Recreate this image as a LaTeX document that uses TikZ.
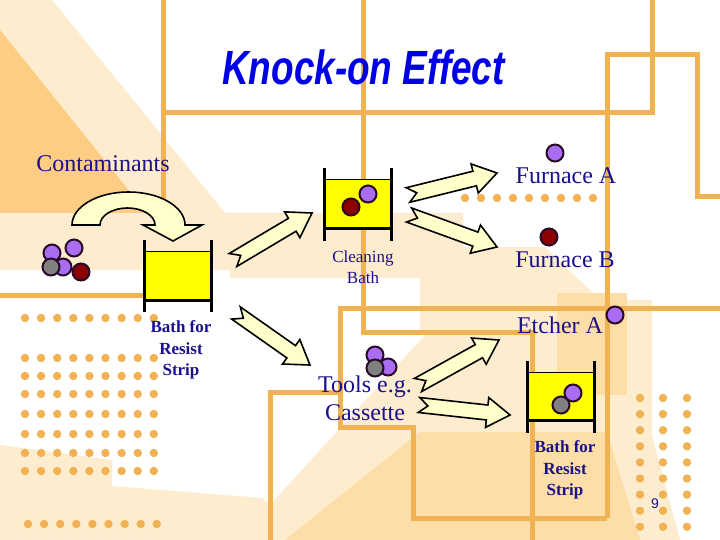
\documentclass[tikz,border=0pt]{standalone}
\usepackage{fontspec}
\setmainfont{Liberation Serif}
\newfontfamily\headfont{Liberation Sans}
\usepackage{graphicx}
\usetikzlibrary{calc}

\definecolor{lineorange}{RGB}{240,178,82}
\definecolor{palebg}{RGB}{254,236,206}
\definecolor{midbg}{RGB}{253,221,168}
\definecolor{darkbg}{RGB}{252,205,130}
\definecolor{labelblue}{RGB}{26,16,140}
\definecolor{titleblue}{RGB}{0,0,230}
\definecolor{bathyellow}{RGB}{255,255,0}
\definecolor{arrowfill}{RGB}{255,255,204}
\definecolor{purpleball}{RGB}{170,108,240}
\definecolor{redball}{RGB}{140,0,0}
\definecolor{grayball}{RGB}{128,128,128}
\definecolor{ballrim}{RGB}{40,10,40}

\begin{document}
\begin{tikzpicture}[x=1pt, y=-1pt,
    bgline/.style={lineorange, line width=5pt},
    bgdot/.style={fill=lineorange},
    biglabel/.style={text=labelblue, font=\fontsize{24}{28}\selectfont, inner sep=0pt, align=center},
    smalllabel/.style={text=labelblue, font=\fontsize{17}{21.5}\selectfont\bfseries, inner sep=0pt, align=center},
    ball/.style={circle, draw=ballrim, line width=2pt, minimum size=17pt, inner sep=0pt},
    bath/.style={rectangle, fill=bathyellow, draw=black, line width=1pt, inner sep=0pt, minimum width=66pt, minimum height=48pt},
    post/.style={line width=3pt},
    fatarrow/.style={fill=arrowfill, draw=black, line width=1.6pt, line join=miter,
      to path={
        ($(\tikztostart)!7.5pt!90:(\tikztotarget)$)
        -- ($(\tikztotarget)!23pt!(\tikztostart)!7.5pt!90:(\tikztotarget)$)
        -- ($(\tikztotarget)!23pt!(\tikztostart)!15pt!90:(\tikztotarget)$)
        -- (\tikztotarget)
        -- ($(\tikztotarget)!23pt!(\tikztostart)!15pt!-90:(\tikztotarget)$)
        -- ($(\tikztotarget)!23pt!(\tikztostart)!7.5pt!-90:(\tikztotarget)$)
        -- ($(\tikztostart)!7.5pt!-90:(\tikztotarget)$)
        -- ($(\tikztostart)!9pt!(\tikztotarget)$)
        -- cycle}}]

    % background
    \useasboundingbox (0,0) rectangle (720,540);
    \fill [white] (0,0) rectangle (720,540);
    \fill [palebg] (0,0) -- (52,0) -- (225,213) -- (463,213) -- (463,278) -- (230,278) -- (230,270) -- (0,270) -- cycle;
    \fill [darkbg] (0,30) -- (147,213) -- (0,213) -- cycle;
    \fill [palebg] (420,278) -- (463,278) -- (463,247) -- (545,247) -- (600,300) -- (652,300) -- (652,435) -- (680,540) -- (270,540) -- (270,505) -- (427,333) -- (420,333) -- cycle;
    \fill [midbg] (557,293) -- (627,293) -- (627,395) -- (557,395) -- cycle;
    \fill [midbg] (285,540) -- (420,432) -- (607,432) -- (640,540) -- cycle;
    \fill [palebg] (0,445) -- (112,460) -- (112,486) -- (262,498) -- (270,505) -- (270,540) -- (0,540) -- cycle;

    \draw [bgline] (163,0) -- (163,215);
    \draw [bgline] (163,113) -- (652,113) -- (652,0);
    \draw [bgline] (363,0) -- (363,332) -- (532,332) -- (532,540);
    \draw [bgline] (607,518) -- (607,55) -- (697,55) -- (697,197) -- (720,197);
    \draw [bgline] (720,308) -- (340,308) -- (340,427) -- (413,427) -- (413,518) -- (607,518);
    \draw [bgline] (340,392) -- (270,392) -- (270,540);
    \draw [bgline] (0,295) -- (145,295);

    \foreach \y in {318,358,376,394,414,434,453,471}
      \foreach \i in {0,...,8}
        \fill [bgdot] (25+16.1*\i,\y) circle (4.2);
    \foreach \i in {0,...,8} {
      \fill [bgdot] (28+16.1*\i,524) circle (4.2);
      \fill [bgdot] (465+16*\i,198) circle (4.2);
      \foreach \x in {640,663,687}
        \fill [bgdot] (\x,398+16.1*\i) circle (4.2);
    }

    \node [anchor=base, font=\headfont\fontsize{48}{48}\selectfont\bfseries\itshape, text=titleblue, inner sep=0pt] (title) at (363.5,85) {\scalebox{0.77}[1]{Knock-on Effect}};

    % baths
    \node [bath] (bathL) at (178,275.5) {};
    \node [bath] (bathC) at (357.5,204) {};
    \node [bath] (bathR) at (561,396) {};
    \foreach \b in {bathL,bathC,bathR} {
      \draw [post] ([yshift=11pt]\b.north west) -- ([yshift=-12pt]\b.south west);
      \draw [post] ([yshift=11pt]\b.north east) -- ([yshift=-12pt]\b.south east);
      \draw [post] (\b.south west) -- (\b.south east);
    }

    % contaminants
    \node [ball, fill=purpleball] (c1) at (52,253) {};
    \node [ball, fill=purpleball] (c2) at (63,267) {};
    \node [ball, fill=grayball] (c3) at (51,267) {};
    \node [ball, fill=purpleball] (c4) at (74,248) {};
    \node [ball, fill=redball] (c5) at (81,272) {};

    \node [ball, fill=redball] (cr) at (351,207) {};
    \node [ball, fill=purpleball] (cp) at (368,194) {};
    \node [ball, fill=purpleball] (fab) at (555,153) {};
    \node [ball, fill=redball] (fbb) at (549,237) {};
    \node [ball, fill=purpleball] (eab) at (615,315) {};
    \node [ball, fill=purpleball] (t1) at (375,355) {};
    \node [ball, fill=purpleball] (t2) at (388,367) {};
    \node [ball, fill=grayball] (t3) at (375,368) {};
    \node [ball, fill=grayball] (rg) at (561,405) {};
    \node [ball, fill=purpleball] (rp) at (573,393) {};

    % labels
    \node [biglabel, anchor=base] (contam) at (103,172) {Contaminants};
    \node [biglabel, anchor=base] (furnA) at (566,184) {Furnace A};
    \node [biglabel, anchor=base] (furnB) at (565,267) {Furnace B};
    \node [biglabel, anchor=base] (etchA) at (560,333) {Etcher A};
    \node [biglabel] (tools) at (365,398) {Tools e.g.\\Cassette};
    \node [smalllabel, font=\fontsize{17}{21.5}\selectfont] (clean) at (363,267) {Cleaning\\Bath};
    \node [smalllabel] (resistL) at (181,350) {Bath for\\Resist\\Strip};
    \node [smalllabel] (resistR) at (565,470) {Bath for\\Resist\\Strip};
    \node [anchor=base, text=labelblue, font=\headfont\fontsize{14}{14}\selectfont, inner sep=0pt] (page) at (655,508) {9};

    % arrows
    \draw [fill=arrowfill, draw=black, line width=1.6pt, line join=miter]
      (72,225) arc [start angle=180, end angle=360, x radius=56.5, y radius=33]
      -- (202,225) -- (173,241) -- (143,225) -- (155,225)
      arc [start angle=0, end angle=-180, x radius=27.5, y radius=17] -- cycle;

    \coordinate (a1) at (233,260);  \coordinate (b1) at (312,213);
    \coordinate (a2) at (236,313);  \coordinate (b2) at (310,365);
    \coordinate (a3) at (408,195);  \coordinate (b3) at (497,173);
    \coordinate (a4) at (409,215);  \coordinate (b4) at (497,247);
    \coordinate (a5) at (418,385);  \coordinate (b5) at (499,340);
    \coordinate (a6) at (419,405);  \coordinate (b6) at (510,415);
    \foreach \n in {1,...,6}
      \draw [fatarrow] (a\n) to (b\n);
\end{tikzpicture}
\end{document}
